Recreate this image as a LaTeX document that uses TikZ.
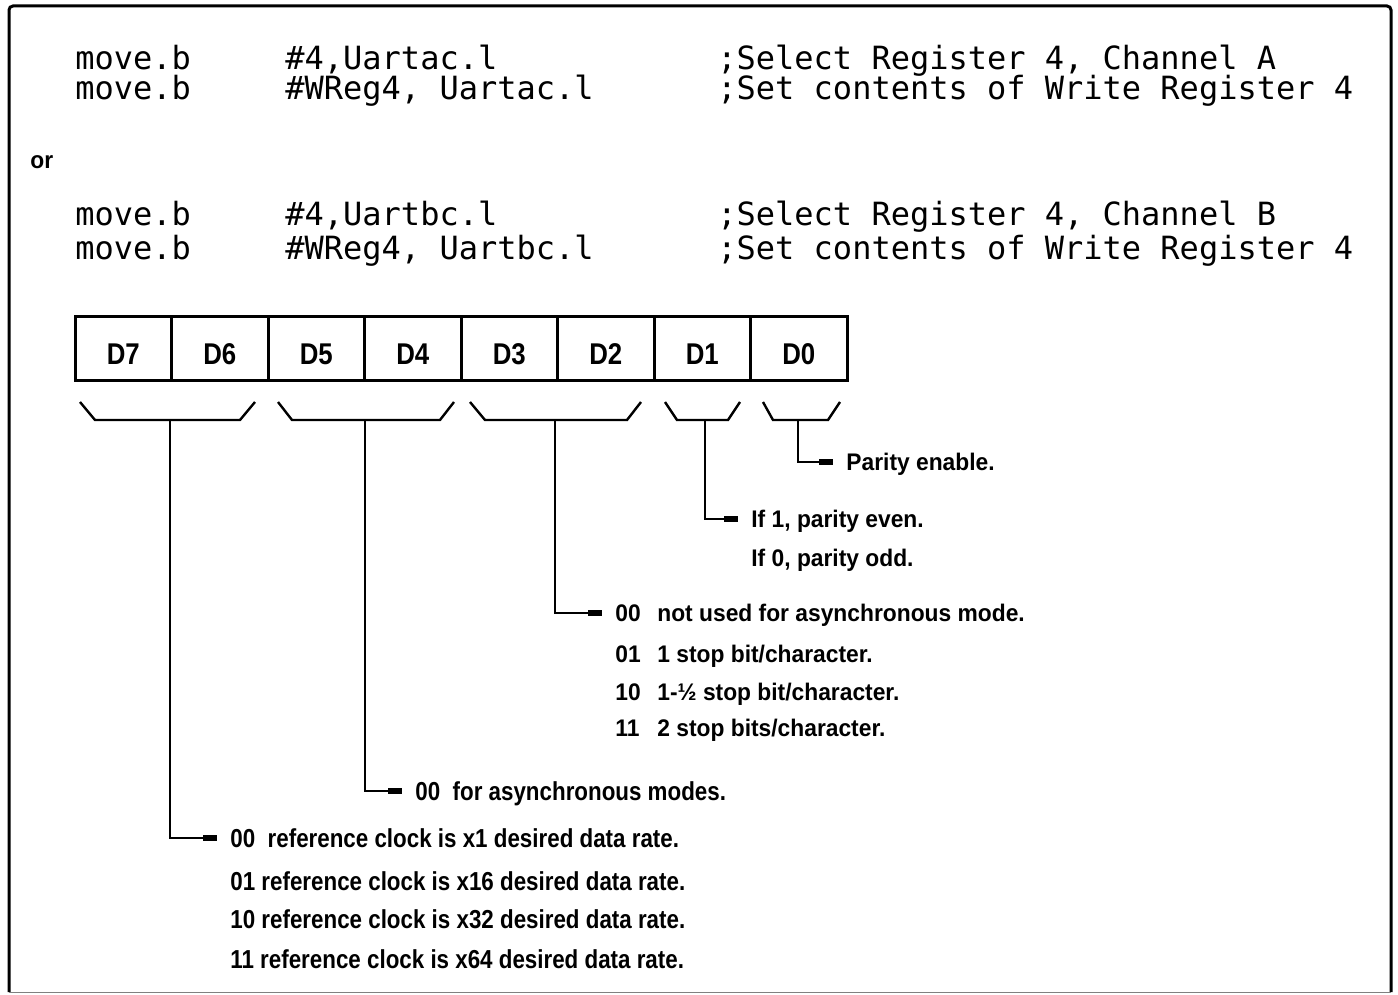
\documentclass[tikz,border=0pt]{standalone}
\usepackage{fontspec}
\setmainfont{Liberation Sans}
\newfontfamily\codefont{DejaVu Sans Mono}
\newfontfamily\labfont[FakeStretch=0.95]{Liberation Sans}
\newfontfamily\condfont[FakeStretch=0.86]{Liberation Sans}
\usetikzlibrary{arrows.meta}

% fixed-width field for the two-bit codes in the middle column
\newcommand{\bitcode}[1]{\makebox[21pt][l]{#1}}

\tikzset{
  code/.style={anchor=base west, inner sep=0pt,
    font=\codefont\fontsize{16}{16}\selectfont},
  cell/.style={draw, line width=1.5pt, minimum width=48.25pt,
    minimum height=32pt, inner sep=0pt, text height=16.4pt, text depth=0pt,
    font=\condfont\bfseries\fontsize{15}{15}\selectfont},
  brace/.style={line width=1.2pt, line join=miter},
  conn/.style={line width=1.2pt, -{Rectangle[length=7pt,width=2.6pt]}},
  lab/.style={anchor=west, inner xsep=6.5pt, inner ysep=0pt,
    text height=8.6pt, text depth=0pt,
    font=\labfont\bfseries\fontsize{12}{12}\selectfont},
  cond/.style={lab, text height=9.3pt,
    font=\condfont\bfseries\fontsize{13}{13}\selectfont},
}

\begin{document}
\begin{tikzpicture}[x=0.5pt,y=-0.5pt]
\useasboundingbox (0,0) rectangle (1398,995);

% outer frame
\draw[line width=1.5pt, rounded corners=2pt] (9,992) -- (9,6) -- (1391,6) -- (1391,992);
\draw[gray, line width=0.5pt] (9,992) -- (1391,992);

% assembler listing
\node[code] (c1a) at (75,70)  {move.b};
\node[code] (c1b) at (285,70) {\#4,Uartac.l};
\node[code] (c1c) at (717,70) {;Select Register 4, Channel A};
\node[code] (c2a) at (75,100)  {move.b};
\node[code] (c2b) at (285,100) {\#WReg4, Uartac.l};
\node[code] (c2c) at (717,100) {;Set contents of Write Register 4};

\node[lab, inner xsep=0pt] (or) at (30,160) {or};

\node[code] (c3a) at (75,226)  {move.b};
\node[code] (c3b) at (285,226) {\#4,Uartbc.l};
\node[code] (c3c) at (717,226) {;Select Register 4, Channel B};
\node[code] (c4a) at (75,259)  {move.b};
\node[code] (c4b) at (285,259) {\#WReg4, Uartbc.l};
\node[code] (c4c) at (717,259) {;Set contents of Write Register 4};

% register cells D7..D0
\foreach \i/\n in {0/7,1/6,2/5,3/4,4/3,5/2,6/1,7/0}
  \node[cell] (d\n) at ({75+96.5*(\i+0.5)},348) {D\n};

% brackets under the bit fields
\draw[brace] (80,402) -- (95,420) -- (240,420) -- (255,402);
\draw[brace] (278,402) -- (292,420) -- (440,420) -- (454,402);
\draw[brace] (470,402) -- (485,420) -- (627,420) -- (641,402);
\draw[brace] (665,402) -- (677,420) -- (728,420) -- (740,402);
\draw[brace] (763,402) -- (773,420) -- (828,420) -- (840,402);

\coordinate (bA) at (170,420);
\coordinate (bB) at (365,420);
\coordinate (bC) at (555,420);
\coordinate (bD) at (705,420);
\coordinate (bE) at (798,420);

% field descriptions
\node[lab] (pe)  at (833,462) {Parity enable.};
\node[lab] (p1)  at (738,519) {If 1, parity even.};
\node[lab] (p0)  at (738,558) {If 0, parity odd.};

\node[lab] (s00) at (602,613) {\bitcode{00}not used for asynchronous mode.};
\node[lab] (s01) at (602,654) {\bitcode{01}1 stop bit/character.};
\node[lab] (s10) at (602,692) {\bitcode{10}1-½ stop bit/character.};
\node[lab] (s11) at (602,728) {\bitcode{11}2 stop bits/character.};

\node[cond] (m00) at (402,791) {00\ \ for asynchronous modes.};

\node[cond] (r00) at (217,838) {00\ \ reference clock is x1 desired data rate.};
\node[cond] (r01) at (217,881) {01 reference clock is x16 desired data rate.};
\node[cond] (r10) at (217,919) {10 reference clock is x32 desired data rate.};
\node[cond] (r11) at (217,959) {11 reference clock is x64 desired data rate.};

% leaders from the brackets to their descriptions
\draw[conn] (bE) |- (pe.west);
\draw[conn] (bD) |- (p1.west);
\draw[conn] (bC) |- (s00.west);
\draw[conn] (bB) |- (m00.west);
\draw[conn] (bA) |- (r00.west);
\end{tikzpicture}
\end{document}
